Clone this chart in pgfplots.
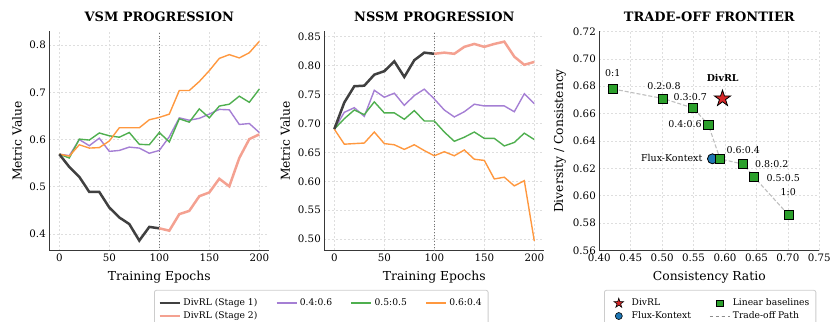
\documentclass[border=0pt]{standalone}
\usepackage{fontspec}
\setmainfont{DejaVu Serif}
\usepackage{pgfplots}
\pgfplotsset{compat=1.18}
\definecolor{cblack}{HTML}{404040}
\definecolor{csalmon}{HTML}{F4A191}
\definecolor{cpurple}{HTML}{A57FD4}
\definecolor{cgreen}{HTML}{4FAF4F}
\definecolor{corange}{HTML}{FF983F}
\definecolor{cstar}{HTML}{D62728}
\definecolor{cblue}{HTML}{1F77B4}
\definecolor{csq}{HTML}{2CA02C}
\pgfdeclareplotmark{fstar}{%
  \pgfpathmoveto{\pgfpointpolar{90}{\pgfplotmarksize}}%
  \pgfpathlineto{\pgfpointpolar{126}{0.382\pgfplotmarksize}}%
  \pgfpathlineto{\pgfpointpolar{162}{\pgfplotmarksize}}%
  \pgfpathlineto{\pgfpointpolar{198}{0.382\pgfplotmarksize}}%
  \pgfpathlineto{\pgfpointpolar{234}{\pgfplotmarksize}}%
  \pgfpathlineto{\pgfpointpolar{270}{0.382\pgfplotmarksize}}%
  \pgfpathlineto{\pgfpointpolar{306}{\pgfplotmarksize}}%
  \pgfpathlineto{\pgfpointpolar{342}{0.382\pgfplotmarksize}}%
  \pgfpathlineto{\pgfpointpolar{18}{\pgfplotmarksize}}%
  \pgfpathlineto{\pgfpointpolar{54}{0.382\pgfplotmarksize}}%
  \pgfpathclose\pgfusepathqfillstroke}
\pgfplotsset{
  panel/.style={
    scale only axis, width=220bp, height=219bp, anchor=south west,
    axis x line*=bottom, axis y line*=left,
    axis line style={draw=black!78, line width=1.3bp},
    tick align=outside, major tick length=0bp,
    tick style={draw=black!75, line width=0.8bp},
    grid=major, grid style={dash pattern=on 2bp off 2bp, black!13, line width=0.6bp},
    tick label style={font=\fontsize{10.3}{12}\selectfont},
    /pgf/number format/assume math mode=true,
    title style={font=\bfseries\fontsize{13}{15}\selectfont, at={(axis description cs:0.5,1)}, anchor=base, yshift=4bp},
    xlabel style={font=\fontsize{12.4}{14}\selectfont, at={(axis description cs:0.5,0)}, anchor=base, yshift=-30bp},
    ylabel style={font=\fontsize{12.4}{14}\selectfont, anchor=base},
    legend image code/.code={\draw[mark repeat=2,mark phase=2,##1] plot coordinates {(0bp,0bp) (10bp,0bp) (20bp,0bp)}; \path (0bp,0bp) (20bp,0bp);},
    legend cell align=left,
    legend style={draw=black!20, rounded corners=2bp, line width=0.8bp, fill=white,
      font=\fontsize{9.2}{10}\selectfont, anchor=north west,
      inner xsep=4bp, inner ysep=6.5bp,
      nodes={inner xsep=2.5bp, inner ysep=2.5bp, text height=6bp, text depth=1.8bp},
      /tikz/every even column/.append style={column sep=16bp}},
  },
}
\begin{document}
\begin{tikzpicture}
\useasboundingbox (0,0) rectangle (831bp,322bp);
% ---------------- VSM ----------------
\begin{axis}[panel, at={(49.3bp,71.5bp)},
  xmin=-10, xmax=210, ymin=0.365, ymax=0.829,
  xtick={0,50,100,150,200}, ytick={0.4,0.5,0.6,0.7,0.8},
  yticklabel style={/pgf/number format/fixed, /pgf/number format/precision=1},
  title={VSM PROGRESSION}, xlabel={Training Epochs}, ylabel={Metric Value},
  ylabel style={at={(axis description cs:-0.1255,0.5)}},
  legend columns=4,
  legend style={at={(axis description cs:0.476,-0.180)}},
]
\addlegendimage{cblack, line width=2.5bp}
\addlegendentry{DivRL (Stage 1)}
\addlegendimage{cpurple, line width=1.5bp}
\addlegendentry{0.4:0.6}
\addlegendimage{cgreen, line width=1.5bp}
\addlegendentry{0.5:0.5}
\addlegendimage{corange, line width=1.5bp}
\addlegendentry{0.6:0.4}
\addlegendimage{csalmon, line width=2.5bp}
\addlegendentry{DivRL (Stage 2)}
\addplot[forget plot, black!55, dotted, line width=0.9bp] coordinates {(100,0.365) (100,0.829)};
\addplot[forget plot, cpurple, line width=1.4bp] coordinates {
(0,0.569) (10,0.566) (20,0.600) (30,0.587) (40,0.603) (50,0.575) (60,0.577) (70,0.584) (80,0.582) (90,0.571) (100,0.577)
(110,0.606) (120,0.646) (130,0.641) (140,0.645) (150,0.654) (160,0.664) (170,0.663) (180,0.632) (190,0.634) (200,0.615)};
\addplot[forget plot, cgreen, line width=1.4bp] coordinates {
(0,0.569) (10,0.561) (20,0.601) (30,0.599) (40,0.614) (50,0.608) (60,0.605) (70,0.615) (80,0.590) (90,0.589) (100,0.615)
(110,0.595) (120,0.644) (130,0.637) (140,0.665) (150,0.646) (160,0.671) (170,0.675) (180,0.692) (190,0.679) (200,0.707)};
\addplot[forget plot, corange, line width=1.4bp] coordinates {
(0,0.569) (10,0.565) (20,0.589) (30,0.582) (40,0.583) (50,0.597) (60,0.625) (70,0.625) (80,0.625) (90,0.642) (100,0.647)
(110,0.654) (120,0.704) (130,0.704) (140,0.723) (150,0.746) (160,0.772) (170,0.780) (180,0.773) (190,0.784) (200,0.808)};
\addplot[forget plot, cblack, line width=2.5bp] coordinates {
(0,0.569) (10,0.542) (20,0.521) (30,0.489) (40,0.489) (50,0.456) (60,0.435) (70,0.421) (80,0.386) (90,0.415) (100,0.412)};
\addplot[forget plot, csalmon, line width=2.5bp] coordinates {
(100,0.412) (110,0.407) (120,0.442) (130,0.449) (140,0.480) (150,0.488) (160,0.517) (170,0.501) (180,0.561) (190,0.601) (200,0.611)};
\end{axis}
% ---------------- NSSM ----------------
\begin{axis}[panel, at={(324.3bp,71.5bp)},
  xmin=-10, xmax=210, ymin=0.4805, ymax=0.8585,
  xtick={0,50,100,150,200}, ytick={0.50,0.55,0.60,0.65,0.70,0.75,0.80,0.85},
  yticklabel style={/pgf/number format/fixed, /pgf/number format/fixed zerofill, /pgf/number format/precision=2},
  title={NSSM PROGRESSION}, xlabel={Training Epochs}, ylabel={Metric Value},
  ylabel style={at={(axis description cs:-0.156,0.5)}},
]
\addplot[black!55, dotted, line width=0.9bp] coordinates {(100,0.4805) (100,0.8585)};
\addplot[cpurple, line width=1.4bp] coordinates {
(0,0.690) (10,0.719) (20,0.727) (30,0.712) (40,0.757) (50,0.745) (60,0.752) (70,0.731) (80,0.748) (90,0.759) (100,0.742)
(110,0.723) (120,0.711) (130,0.720) (140,0.733) (150,0.730) (160,0.730) (170,0.730) (180,0.720) (190,0.751) (200,0.734)};
\addplot[cgreen, line width=1.4bp] coordinates {
(0,0.690) (10,0.708) (20,0.723) (30,0.715) (40,0.737) (50,0.718) (60,0.718) (70,0.707) (80,0.722) (90,0.704) (100,0.704)
(110,0.685) (120,0.669) (130,0.676) (140,0.685) (150,0.674) (160,0.674) (170,0.661) (180,0.667) (190,0.683) (200,0.672)};
\addplot[corange, line width=1.4bp] coordinates {
(0,0.690) (10,0.664) (20,0.665) (30,0.666) (40,0.685) (50,0.665) (60,0.663) (70,0.655) (80,0.663) (90,0.653) (100,0.644)
(110,0.651) (120,0.644) (130,0.654) (140,0.638) (150,0.636) (160,0.604) (170,0.607) (180,0.592) (190,0.601) (200,0.497)};
\addplot[cblack, line width=2.5bp] coordinates {
(0,0.690) (10,0.736) (20,0.764) (30,0.765) (40,0.784) (50,0.790) (60,0.807) (70,0.780) (80,0.809) (90,0.822) (100,0.820)};
\addplot[csalmon, line width=2.5bp] coordinates {
(100,0.820) (110,0.822) (120,0.820) (130,0.832) (140,0.837) (150,0.832) (160,0.837) (170,0.841) (180,0.815) (190,0.801) (200,0.806)};
\end{axis}
% ---------------- Trade-off ----------------
\begin{axis}[panel, at={(599.3bp,71.5bp)},
  xmin=0.40, xmax=0.75, ymin=0.56, ymax=0.72,
  xtick={0.40,0.45,0.50,0.55,0.60,0.65,0.70,0.75},
  ytick={0.56,0.58,0.60,0.62,0.64,0.66,0.68,0.70,0.72},
  xticklabel style={/pgf/number format/fixed, /pgf/number format/fixed zerofill, /pgf/number format/precision=2},
  yticklabel style={/pgf/number format/fixed, /pgf/number format/fixed zerofill, /pgf/number format/precision=2},
  title={TRADE-OFF FRONTIER}, xlabel={Consistency Ratio}, ylabel={Diversity / Consistency},
  ylabel style={at={(axis description cs:-0.164,0.5)}},
  legend columns=2,
  legend style={at={(axis description cs:0.0214,-0.180)}},
]
\addlegendimage{only marks, mark=fstar, mark size=5bp, mark options={fill=cstar, draw=black, line width=0.6bp}}
\addlegendentry{DivRL}
\addlegendimage{only marks, mark=square*, mark size=3.2bp, mark options={fill=csq, draw=black, line width=0.6bp}}
\addlegendentry{Linear baselines}
\addlegendimage{only marks, mark=*, mark size=3.5bp, mark options={fill=cblue, draw=black, line width=0.6bp}}
\addlegendentry{Flux-Kontext}
\addlegendimage{black!45, dashed, line width=0.9bp}
\addlegendentry{Trade-off Path}
\addplot[forget plot, black!25, dash pattern=on 4bp off 2bp, line width=1.1bp] coordinates {
(0.4217,0.678) (0.5018,0.671) (0.5495,0.664) (0.5734,0.652) (0.592,0.627) (0.629,0.623) (0.6455,0.614) (0.701,0.586)};
\addplot[forget plot, only marks, mark=*, mark size=5bp, mark options={fill=cblue, draw=black, line width=0.8bp}] coordinates {(0.580,0.627)};
\addplot[forget plot, only marks, mark=square*, mark size=4.6bp, mark options={fill=csq, draw=black, line width=0.8bp}] coordinates {
(0.4217,0.678) (0.5018,0.671) (0.5495,0.664) (0.5734,0.652) (0.592,0.627) (0.629,0.623) (0.6455,0.614) (0.701,0.586)};
\addplot[forget plot, only marks, mark=fstar, mark size=8.5bp, mark options={fill=cstar, draw=black, line width=0.8bp}] coordinates {(0.596,0.671)};
\begin{scope}[font=\fontsize{9.5}{11}\selectfont]
\node at (axis cs:0.4213,0.690) {0:1};
\node at (axis cs:0.503,0.680) {0.2:0.8};
\node at (axis cs:0.5448,0.6718) {0.3:0.7};
\node at (axis cs:0.5363,0.6526) {0.4:0.6};
\node at (axis cs:0.629,0.6331) {0.6:0.4};
\node at (axis cs:0.6743,0.6229) {0.8:0.2};
\node at (axis cs:0.6927,0.6129) {0.5:0.5};
\node at (axis cs:0.7007,0.6030) {1:0};
\node at (axis cs:0.5152,0.6275) {Flux-Kontext};
\node[font=\bfseries\fontsize{9.5}{11}\selectfont] at (axis cs:0.5963,0.686) {DivRL};
\end{scope}
\end{axis}
\end{tikzpicture}
\end{document}
